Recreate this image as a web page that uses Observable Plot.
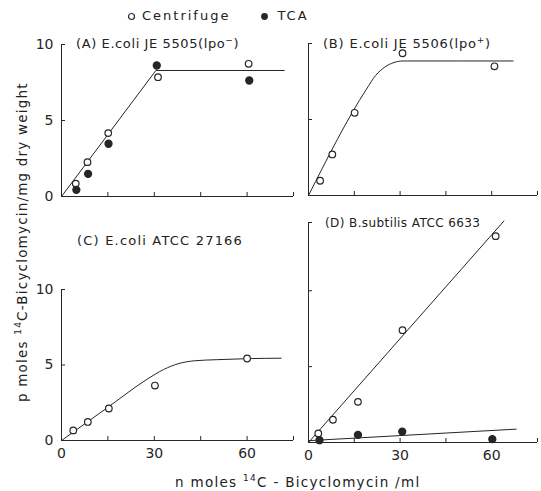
<!DOCTYPE html>
<html><head><meta charset="utf-8">
<script src="https://cdn.jsdelivr.net/npm/d3@7"></script>
<script src="https://cdn.jsdelivr.net/npm/@observablehq/plot@0.6"></script>
<style>
body{margin:0;background:#fff;}
#wrap{position:relative;width:541px;height:491px;font-family:"DejaVu Sans",sans-serif;color:#222;overflow:hidden;}
#wrap svg.panel{position:absolute;left:0;top:0;}
.lbl{position:absolute;white-space:nowrap;font-size:13px;letter-spacing:1px;line-height:1;}
</style></head><body><div id="wrap"></div>
<script>
// ---- data ----
const xTicks = [15, 30, 45, 60, 75];
const xTickLabels = [0, 30, 60];
const yTickLabels = [0, 5, 10];

const aCentX = [4.6, 8.4, 15.1, 31.2, 60.5];
const aCentY = [0.85, 2.26, 4.17, 7.85, 8.73];
const aTcaX = [4.8, 8.6, 15.2, 30.8, 60.7];
const aTcaY = [0.44, 1.49, 3.47, 8.62, 7.63];
const aFitX = [0, 30.5, 72];
const aFitY = [0, 8.29, 8.29];

const bCentX = [3.8, 7.8, 15.1, 30.8, 60.9];
const bCentY = [0.97, 2.7, 5.44, 9.36, 8.5];
const bFitX = [0, 19, 22, 25, 28, 31, 67];
const bFitY = [0, 7.0, 7.9, 8.45, 8.75, 8.85, 8.85];

const cCentX = [3.8, 8.5, 15.3, 30.2, 60];
const cCentY = [0.67, 1.23, 2.12, 3.64, 5.43];
const cFitX = [0, 15, 28, 33, 38, 43, 50, 60, 71];
const cFitY = [0, 2.2, 4.1, 4.7, 5.1, 5.28, 5.35, 5.42, 5.45];

const dCentX = [3.2, 8.0, 16.2, 30.8, 61.3];
const dCentY = [0.6, 1.5, 2.68, 7.4, 13.6];
const dTcaX = [3.6, 16.2, 30.7, 60.2];
const dTcaY = [0.15, 0.5, 0.72, 0.22];
const dFitCentX = [0, 64];
const dFitCentY = [0, 14.6];
const dFitTcaX = [0, 68];
const dFitTcaY = [0.12, 0.88];

const pts = (xs, ys) => xs.map((x, i) => ({x, y: ys[i]}));

const ink = "#262626";
const W = 541, H = 491;

function panel({left, right, bottom, top, ymax, yTicks, showY, showX, cent, tca, fits}) {
  const pxX = 75 / (right - left), pxY = ymax / (bottom - top);
  const marks = [
    Plot.ruleY([0], {stroke: ink, strokeWidth: 1}),
    Plot.ruleX([0], {stroke: ink, strokeWidth: 1}),
    // inward ticks
    Plot.ruleX(xTicks, {x: d => d, y1: 0, y2: 4 * pxY, stroke: ink, strokeWidth: 1}),
    Plot.ruleY(yTicks, {y: d => d, x1: 0, x2: 4 * pxX, stroke: ink, strokeWidth: 1}),
  ];
  if (showX) marks.push(Plot.axisX({ticks: xTickLabels, tickSize: 0, tickPadding: 8, fontSize: 14, fill: ink, label: null}));
  if (showY) marks.push(Plot.axisY({ticks: yTickLabels, tickSize: 0, tickPadding: 8, fontSize: 14, fill: ink, label: null}));
  for (const f of fits) marks.push(Plot.line(f.data, {x: "x", y: "y", stroke: ink, strokeWidth: 1, curve: f.curve || "linear", clip: false}));
  if (cent) marks.push(Plot.dot(cent, {x: "x", y: "y", r: 3.3, stroke: ink, strokeWidth: 1.2, fill: "white"}));
  if (tca) marks.push(Plot.dot(tca, {x: "x", y: "y", r: 3.4, fill: ink, stroke: ink}));
  const svg = Plot.plot({
    width: W, height: H,
    marginLeft: left, marginRight: W - right, marginTop: top, marginBottom: H - bottom,
    x: {domain: [0, 75], label: null, axis: null},
    y: {domain: [0, ymax], label: null, axis: null},
    style: {fontFamily: "DejaVu Sans, sans-serif", background: "transparent", color: ink, overflow: "visible"},
    marks
  });
  svg.classList.add("panel");
  return svg;
}

const wrap = document.getElementById("wrap");
wrap.append(panel({left: 61, right: 293, bottom: 196, top: 44, ymax: 10, yTicks: [5, 10], showY: true, showX: false,
  cent: pts(aCentX, aCentY), tca: pts(aTcaX, aTcaY), fits: [{data: pts(aFitX, aFitY)}]}));
wrap.append(panel({left: 308, right: 537, bottom: 195, top: 43, ymax: 10, yTicks: [5, 10], showY: false, showX: false,
  cent: pts(bCentX, bCentY), tca: null, fits: [{data: pts(bFitX, bFitY), curve: "monotone-x"}]}));
wrap.append(panel({left: 61, right: 293, bottom: 440, top: 289, ymax: 10, yTicks: [5, 10], showY: true, showX: true,
  cent: pts(cCentX, cCentY), tca: null, fits: [{data: pts(cFitX, cFitY), curve: "monotone-x"}]}));
wrap.append(panel({left: 308, right: 537, bottom: 442, top: 222, ymax: 14.5, yTicks: [5, 10, 14.5], showY: false, showX: true,
  cent: pts(dCentX, dCentY), tca: pts(dTcaX, dTcaY), fits: [{data: pts(dFitCentX, dFitCentY)}, {data: pts(dFitTcaX, dFitTcaY)}]}));

function label(html, x, y, opts = {}) {
  const d = document.createElement("div");
  d.className = "lbl";
  d.innerHTML = html;
  d.style.left = x + "px";
  d.style.top = y + "px";
  if (opts.size) d.style.fontSize = opts.size + "px";
  if (opts.ls != null) d.style.letterSpacing = opts.ls + "px";
  if (opts.transform) { d.style.transform = opts.transform; d.style.transformOrigin = "0 0"; }
  wrap.append(d);
  return d;
}

// legend
label(`<svg width="9" height="9" style="vertical-align:middle;margin-right:6px"><circle cx="4.5" cy="4.5" r="3" fill="white" stroke="${ink}" stroke-width="1.2"/></svg>Centrifuge<svg width="9" height="9" style="vertical-align:middle;margin:0 8px 0 30px"><circle cx="4.5" cy="4.5" r="3.4" fill="${ink}"/></svg>TCA`, 127, 9, {size: 13, ls: 2});

// panel titles
label("(A) E.coli JE 5505(lpo<sup style='font-size:9px'>−</sup>)", 76, 36, {size: 13, ls: 0.6});
label("(B) E.coli JE 5506(lpo<sup style='font-size:9px'>+</sup>)", 323, 36, {size: 13, ls: 0.8});
label("(C) E.coli ATCC 27166", 77, 234, {size: 13, ls: 1.2});
label("(D) B.subtilis ATCC 6633", 325, 217, {size: 12, ls: 0.4});

// axis titles
label("p moles <sup style='font-size:9px'>14</sup>C-Bicyclomycin/mg dry weight", 14, 402, {size: 13.5, ls: 1.2, transform: "rotate(-90deg)"});
label("n moles <sup style='font-size:9px'>14</sup>C - Bicyclomycin /ml", 175, 474, {size: 13.5, ls: 1.3});
</script></body></html>
